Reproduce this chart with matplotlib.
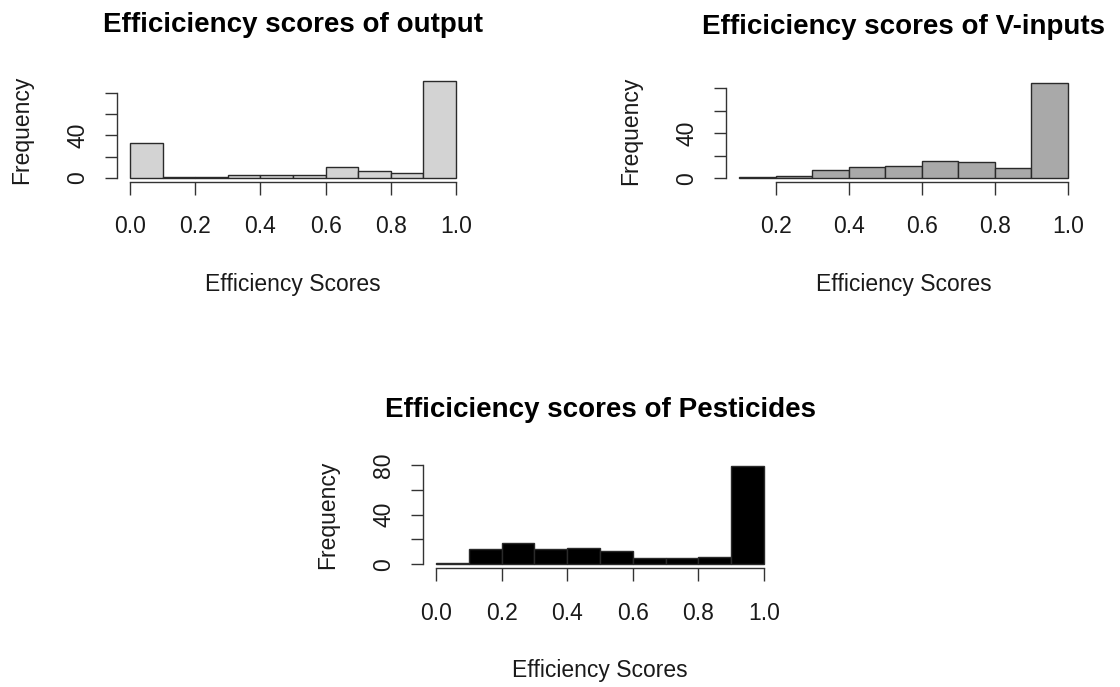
import numpy as np
import matplotlib
matplotlib.use("Agg")
import matplotlib.pyplot as plt

plt.rcParams['font.family'] = ['Liberation Sans', 'DejaVu Sans']

# histogram counts (bins of width 0.1)
output_edges = [0.0, 0.1, 0.2, 0.3, 0.4, 0.5, 0.6, 0.7, 0.8, 0.9, 1.0]
output_counts = [33, 1, 1, 3, 3, 3, 10, 7, 5, 91]

vinput_edges = [0.1, 0.2, 0.3, 0.4, 0.5, 0.6, 0.7, 0.8, 0.9, 1.0]
vinput_counts = [1, 2, 7, 10, 11, 15, 14, 9, 85]

pest_edges = [0.0, 0.1, 0.2, 0.3, 0.4, 0.5, 0.6, 0.7, 0.8, 0.9, 1.0]
pest_counts = [1, 12, 17, 12, 13, 11, 5, 5, 6, 79]

output_xticks = [0.0, 0.2, 0.4, 0.6, 0.8, 1.0]
vinput_xticks = [0.2, 0.4, 0.6, 0.8, 1.0]
pest_xticks = [0.0, 0.2, 0.4, 0.6, 0.8, 1.0]
yticks = [0, 20, 40, 60, 80]
ylabels_short = ['0', '', '40', '', '']
ylabels_full = ['0', '', '40', '', '80']

titles = ["Efficiciency scores of output",
          "Efficiciency scores of V-inputs",
          "Efficiciency scores of Pesticides"]

TXT = '#1a1a1a'


def r_hist(ax, edges, counts, color, xticks, ylabels, title):
    edges = np.array(edges)
    counts = np.array(counts)
    ax.bar(edges[:-1], counts, width=np.diff(edges), align='edge',
           color=color, edgecolor='#2a2a2a', linewidth=1.0)
    # R style 4% axis expansion
    xr = edges[-1] - edges[0]
    ax.set_xlim(edges[0] - 0.04 * xr, edges[-1] + 0.04 * xr)
    ym = counts.max()
    ax.set_ylim(-0.04 * ym, ym * 1.04)
    for s in ['top', 'right']:
        ax.spines[s].set_visible(False)
    ax.spines['left'].set_bounds(yticks[0], yticks[-1])
    ax.spines['bottom'].set_bounds(xticks[0], xticks[-1])
    for s in ['left', 'bottom']:
        ax.spines[s].set_color('#333333')
        ax.spines[s].set_linewidth(1.0)
    ax.set_xticks(xticks)
    ax.set_xticklabels(['%.1f' % t for t in xticks])
    ax.set_yticks(yticks)
    ax.set_yticklabels(ylabels, rotation=90, va='center')
    ax.tick_params(axis='both', direction='out', length=9, width=1.0,
                   color='#333333', labelsize=16.5, labelcolor=TXT)
    ax.tick_params(axis='x', pad=15)
    ax.tick_params(axis='y', pad=11)
    ax.set_xlabel("Efficiency Scores", fontsize=16.5, color=TXT, labelpad=25)
    ax.set_ylabel("Frequency", fontsize=16.5, color=TXT, labelpad=24)
    ax.set_title(title, fontsize=20, fontweight='bold', pad=32.5, color='black')
    ax.patch.set_visible(False)


fig = plt.figure(figsize=(11.2, 6.87), dpi=100)

ax1 = fig.add_axes([0.1045, 0.7351, 0.3143, 0.1528])
r_hist(ax1, output_edges, output_counts, '#D3D3D3', output_xticks, ylabels_short, titles[0])

ax2 = fig.add_axes([0.6482, 0.7351, 0.3170, 0.1502])
r_hist(ax2, vinput_edges, vinput_counts, '#A9A9A9', vinput_xticks, ylabels_short, titles[1])

ax3 = fig.add_axes([0.3777, 0.1729, 0.3161, 0.1541])
r_hist(ax3, pest_edges, pest_counts, 'black', pest_xticks, ylabels_full, titles[2])

fig.savefig("out.png", dpi=100)
